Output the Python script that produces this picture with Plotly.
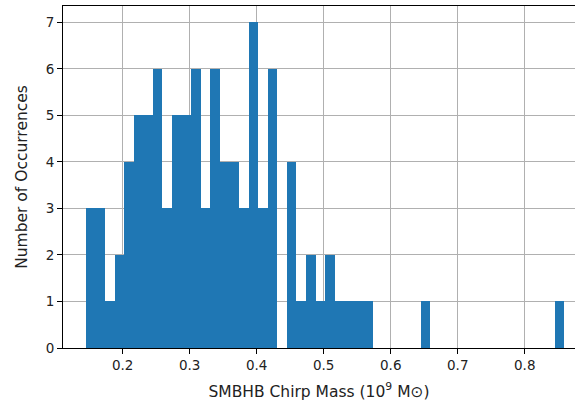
import numpy as np
import plotly.graph_objects as go

# Histogram data (50 equal bins)
bin_start = 0.145
bin_end = 0.859
n_bins = 50
counts = [3, 3, 1, 2, 4, 5, 5, 6, 3, 5,
          5, 6, 3, 6, 4, 4, 3, 7, 3, 6,
          0, 4, 1, 2, 1, 2, 1, 1, 1, 1,
          0, 0, 0, 0, 0, 1, 0, 0, 0, 0,
          0, 0, 0, 0, 0, 0, 0, 0, 0, 1]
x_ticks = [0.2, 0.3, 0.4, 0.5, 0.6, 0.7, 0.8]
x_tick_labels = ["0.2", "0.3", "0.4", "0.5", "0.6", "0.7", "0.8"]
y_ticks = [0, 1, 2, 3, 4, 5, 6, 7]

edges = np.linspace(bin_start, bin_end, n_bins + 1)
centers = (edges[:-1] + edges[1:]) / 2
width = edges[1] - edges[0]

fig = go.Figure(go.Bar(
    x=centers, y=counts, width=width,
    marker=dict(color="#1f77b4", line=dict(width=0)),
))

font = "DejaVu Sans"
fig.update_layout(
    width=575, height=406,
    margin=dict(l=63, r=0, t=6, b=58),
    plot_bgcolor="white", paper_bgcolor="white",
    showlegend=False, bargap=0,
    font=dict(family=font, size=13.5, color="#222222"),
)
fig.update_xaxes(
    range=[0.1109, 0.875], tickvals=x_ticks, ticktext=x_tick_labels,
    showline=True, linecolor="black", linewidth=1, mirror=True,
    ticks="outside", ticklen=5, tickwidth=1, tickcolor="black",
    showgrid=True, gridcolor="#b0b0b0", gridwidth=1, zeroline=False,
    title=dict(text="SMBHB Chirp Mass (10<sup>9</sup> M⊙)",
               font=dict(size=15.5, family=font), standoff=13),
    automargin=False,
)
fig.update_yaxes(
    range=[0, 7.35], tickvals=y_ticks,
    showline=True, linecolor="black", linewidth=1, mirror=False,
    ticks="outside", ticklen=5, tickwidth=1, tickcolor="black",
    showgrid=True, gridcolor="#b0b0b0", gridwidth=1, zeroline=False,
    title=dict(text="Number of Occurrences",
               font=dict(size=15.5, family=font), standoff=14),
    automargin=False,
)
fig.write_html("out.html")
